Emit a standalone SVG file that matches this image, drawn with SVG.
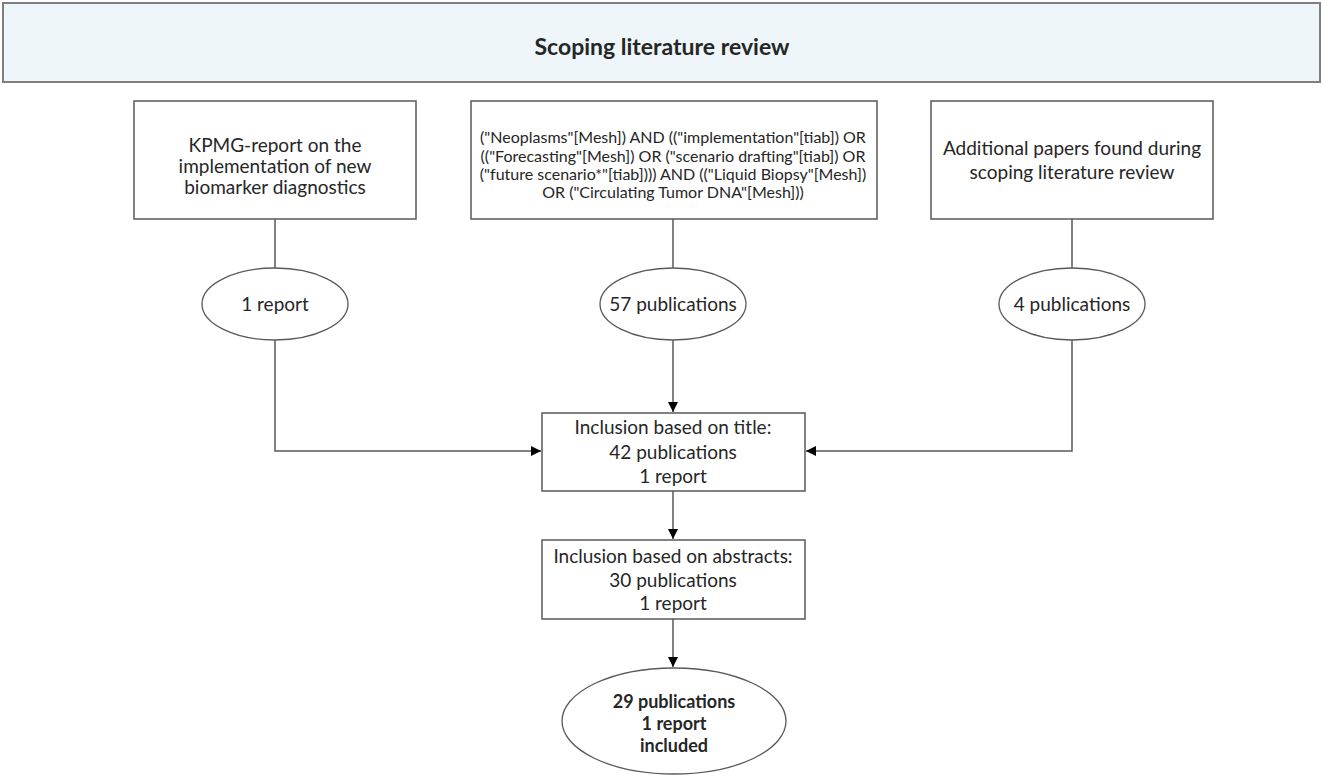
<svg xmlns="http://www.w3.org/2000/svg" width="1324" height="777" viewBox="0 0 1324 777">
<style>
.box{fill:#ffffff;stroke:#595959;stroke-width:1.5}
.ell{fill:#ffffff;stroke:#595959;stroke-width:1.3}
.t{font-family:Lato,"Liberation Sans",sans-serif;fill:#262626;text-anchor:middle}
.t19{font-size:19px}
.t18{font-size:18px}
.t16{font-size:16px}
.b{font-weight:bold}
.ln{fill:none;stroke:#595959;stroke-width:1.5}
</style>
<defs>
<marker id="ah" viewBox="0 0 10 10" refX="10" refY="5" markerWidth="10" markerHeight="10" markerUnits="userSpaceOnUse" orient="auto">
<path d="M0,0 L10,5 L0,10 Z" fill="#000000"/>
</marker>
</defs>
<rect width="1324" height="777" fill="#ffffff"/>
<g id="title">
<rect x="3" y="3" width="1317" height="79" fill="#EEF6F9" stroke="#7F7F7F" stroke-width="2"/>
<text class="t b" x="662" y="55" font-size="23">Scoping literature review</text>
</g>
<g id="connectors">
<path class="ln" d="M275 219 V268"/>
<path class="ln" d="M673 219 V268"/>
<path class="ln" d="M1072 219 V268"/>
<path class="ln" d="M275 340 V451 H541" marker-end="url(#ah)"/>
<path class="ln" d="M673 340 V412" marker-end="url(#ah)"/>
<path class="ln" d="M1072 340 V451 H806" marker-end="url(#ah)"/>
<path class="ln" d="M673 491 V539" marker-end="url(#ah)"/>
<path class="ln" d="M673 619 V667" marker-end="url(#ah)"/>
</g>
<g id="kpmg">
<rect class="box" x="134" y="101" width="282" height="118"/>
<text class="t t19" x="275" y="152">KPMG-report on the</text>
<text class="t t19" x="275" y="173">implementation of new</text>
<text class="t t19" x="275" y="194">biomarker diagnostics</text>
</g>
<g id="query">
<rect class="box" x="471" y="101" width="406" height="118"/>
<text class="t t16" x="673" y="143">("Neoplasms"[Mesh]) AND (("implementation"[tiab]) OR</text>
<text class="t t16" x="673" y="162">(("Forecasting"[Mesh]) OR ("scenario drafting"[tiab]) OR</text>
<text class="t t16" x="673" y="180">("future scenario*"[tiab]))) AND (("Liquid Biopsy"[Mesh])</text>
<text class="t t16" x="673" y="198">OR ("Circulating Tumor DNA"[Mesh]))</text>
</g>
<g id="additional">
<rect class="box" x="931" y="101" width="282" height="118"/>
<text class="t t19" x="1072" y="155">Additional papers found during</text>
<text class="t t19" x="1072" y="179">scoping literature review</text>
</g>
<g id="e-report">
<ellipse class="ell" cx="275" cy="304" rx="73" ry="36"/>
<text class="t t19" x="275" y="311">1 report</text>
</g>
<g id="e-57">
<ellipse class="ell" cx="673" cy="304" rx="73" ry="36"/>
<text class="t t19" x="673" y="311">57 publications</text>
</g>
<g id="e-4">
<ellipse class="ell" cx="1072" cy="304" rx="73" ry="36"/>
<text class="t t19" x="1072" y="311">4 publications</text>
</g>
<g id="title-incl">
<rect class="box" x="542" y="413" width="263" height="78"/>
<text class="t t19" x="673" y="434">Inclusion based on title:</text>
<text class="t t19" x="673" y="459">42 publications</text>
<text class="t t19" x="673" y="483">1 report</text>
</g>
<g id="abstract-incl">
<rect class="box" x="542" y="540" width="263" height="79"/>
<text class="t t19" x="673" y="563">Inclusion based on abstracts:</text>
<text class="t t19" x="673" y="587">30 publications</text>
<text class="t t19" x="673" y="610">1 report</text>
</g>
<g id="final">
<ellipse class="ell" cx="674" cy="721" rx="112" ry="53"/>
<text class="t t18 b" x="674" y="708">29 publications</text>
<text class="t t18 b" x="674" y="730">1 report</text>
<text class="t t18 b" x="674" y="752">included</text>
</g>
</svg>
